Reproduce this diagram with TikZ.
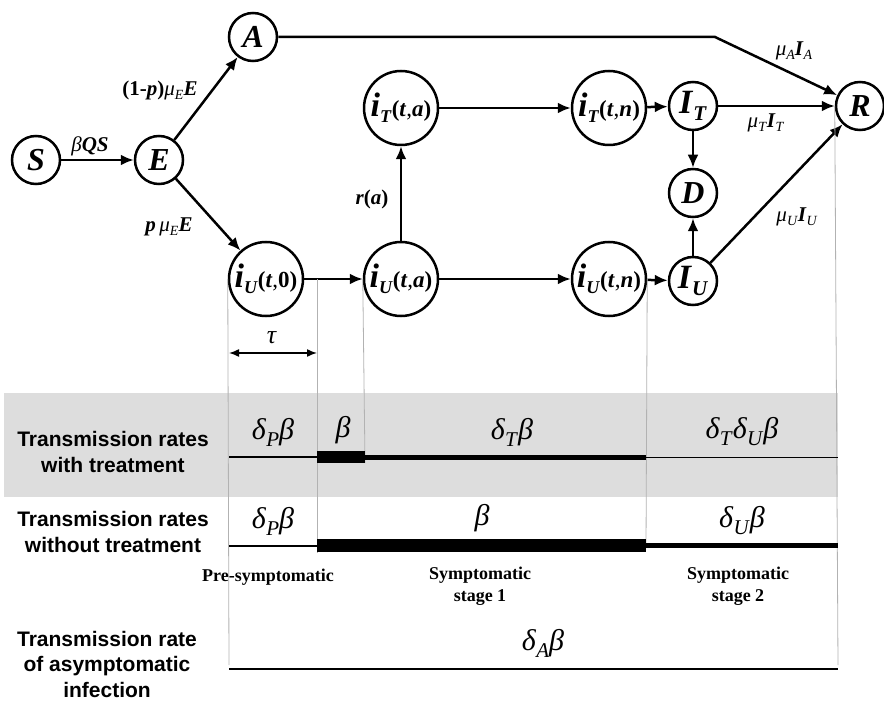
\documentclass[tikz,border=0pt]{standalone}
\usepackage{fontspec}
\setmainfont{Liberation Serif}
\newfontfamily\arialfont{Liberation Sans}
\usetikzlibrary{arrows.meta}

\definecolor{bandgray}{RGB}{221,221,221}
\newcommand{\bi}[1]{\textbf{\textit{#1}}}
\newcommand{\fsz}[1]{\fontsize{#1}{#1}\selectfont}
% i_X(t,y) compartments
\newcommand{\inode}[2]{{\fsz{34}\bi{i}}\raisebox{-6pt}{\fsz{18}\bi{#1}}{\fsz{23}\textbf{(}\bi{t},#2\textbf{)}}}
\newcommand{\Inode}[1]{{\fsz{34}\bi{I}}\raisebox{-7pt}{\fsz{21}\bi{#1}}}
\newcommand{\sub}[1]{\raisebox{-4pt}{\fsz{14}\textit{#1}}}
\newcommand{\rsub}[1]{\raisebox{-7pt}{\fsz{21}\textit{#1}}}

\begin{document}
\begin{tikzpicture}[x=1pt,y=-1pt,
  cmp/.style={circle,draw,fill=white,line width=2.5pt,minimum size=48pt,inner sep=0pt,font=\fsz{32}},
  bigcmp/.style={cmp,minimum size=74pt},
  arr/.style={-{Latex[length=13pt,width=11pt]},line width=2.5pt},
  lab/.style={font=\fsz{21}},
  rate/.style={font=\fsz{30}},
  guide/.style={black!30,line width=0.8pt},
  cat/.style={font=\arialfont\bfseries\fontsize{21}{25.5}\selectfont,align=center},
  stage/.style={font=\bfseries\fontsize{18}{22}\selectfont,align=center}]
\useasboundingbox (0,0) rectangle (884,703);
\fill[bandgray] (4,393) rectangle (838,497);

% compartments
\node[cmp] (S) at (36,160) {\bi{S}};
\node[cmp] (E) at (159,160) {\bi{E}};
\node[cmp] (A) at (253,37) {\bi{A}};
\node[bigcmp] (iU0) at (266,279) {\inode{U}{\textbf{0}}};
\node[bigcmp] (iUa) at (401,279) {\inode{U}{\bi{a}}};
\node[bigcmp] (iTa) at (401,108) {\inode{T}{\bi{a}}};
\node[bigcmp] (iTn) at (609,108) {\inode{T}{\bi{n}}};
\node[bigcmp] (iUn) at (609,279) {\inode{U}{\bi{n}}};
\node[cmp] (IT) at (693,106) {\Inode{T}};
\node[cmp] (D) at (693,193) {\bi{D}};
\node[cmp] (IU) at (693,281) {\Inode{U}};
\node[cmp] (R) at (860,106) {\bi{R}};
\coordinate (kink) at (715,37);

% flows
\draw[arr] (S) -- (E);
\draw[arr] (E) -- (A);
\draw[arr] (E) -- (iU0);
\draw[arr] (iU0) -- (iUa);
\draw[arr] (iUa) -- (iTa);
\draw[arr] (iTa) -- (iTn);
\draw[arr] (iUa) -- (iUn);
\draw[arr] (iTn) -- (IT);
\draw[arr] (iUn) -- (IU);
\draw[arr] (IT) -- (D);
\draw[arr] (IU) -- (D);
\draw[arr] (IT) -- (R);
\draw[arr] (IU) -- (R);
\draw[arr] (A) -- (kink) -- (R);

\node[lab] (lSE) at (90,146) {\textit{β}\bi{QS}};
\node[lab] (lEA) at (160,90) {\textbf{(1-}\bi{p}\textbf{)}\textit{μ}\sub{E}\bi{E}};
\node[lab] (lEi) at (169,227) {\bi{p}\,\textit{μ}\sub{E}\bi{E}};
\node[lab] (lra) at (372,199) {\bi{r}\textbf{(}\bi{a}\textbf{)}};
\node[lab] (lA) at (794,51) {\textit{μ}\sub{A}\bi{I}\sub{A}};
\node[lab] (lT) at (766,123) {\textit{μ}\sub{T}\bi{I}\sub{T}};
\node[lab] (lU) at (797,217) {\textit{μ}\sub{U}\bi{I}\sub{U}};

% guide lines
\draw[guide] (iU0.west) -- (229,665);
\draw[guide] (317,279) -- (317,553);
\draw[guide] (iUa.west) -- (365,463);
\draw[guide] (iUn.east) -- (646,548);
\draw[guide] (R.west) -- (838,665);

% latent period
\draw[{Latex[length=10pt,width=8pt]}-{Latex[length=10pt,width=8pt]},line width=1.5pt] (229,353) -- (317,353);
\node[font=\fsz{26}] (tau) at (272,338) {\textit{τ}};

% with treatment
\draw[line width=2pt] (229,457) -- (317,457);
\fill (317,451) rectangle (365,463);
\draw[line width=5pt] (365,457) -- (646,457);
\draw[line width=1pt] (646,457) -- (838,457);
% without treatment
\draw[line width=2pt] (229,546) -- (317,546);
\fill (317,539) rectangle (646,552);
\draw[line width=5.5pt] (646,545.5) -- (838,545.5);
% asymptomatic
\draw[line width=2.5pt] (229,669) -- (838,669);

\node[rate] (r1) at (273,432) {\textit{δ}\rsub{P}\textit{β}};
\node[rate] (r2) at (343,430) {\textit{β}};
\node[rate] (r3) at (512,432) {\textit{δ}\rsub{T}\textit{β}};
\node[rate] (r4) at (742,432) {\textit{δ}\rsub{T}\textit{δ}\rsub{U}\textit{β}};
\node[rate] (r5) at (273,521) {\textit{δ}\rsub{P}\textit{β}};
\node[rate] (r6) at (482,518) {\textit{β}};
\node[rate] (r7) at (742,521) {\textit{δ}\rsub{U}\textit{β}};
\node[rate] (r8) at (543,643) {\textit{δ}\rsub{A}\textit{β}};

\node[cat] (ctreat) at (113,452) {Transmission rates\\with treatment};
\node[cat] (cnotreat) at (113,532) {Transmission rates\\without treatment};
\node[cat] (casym) at (107,664) {Transmission rate\\of asymptomatic\\infection};

\node[stage] (pre) at (268,577) {Pre-symptomatic};
\node[stage] (st1) at (480,586) {Symptomatic\\stage 1};
\node[stage] (st2) at (738,586) {Symptomatic\\stage 2};
\end{tikzpicture}
\end{document}
